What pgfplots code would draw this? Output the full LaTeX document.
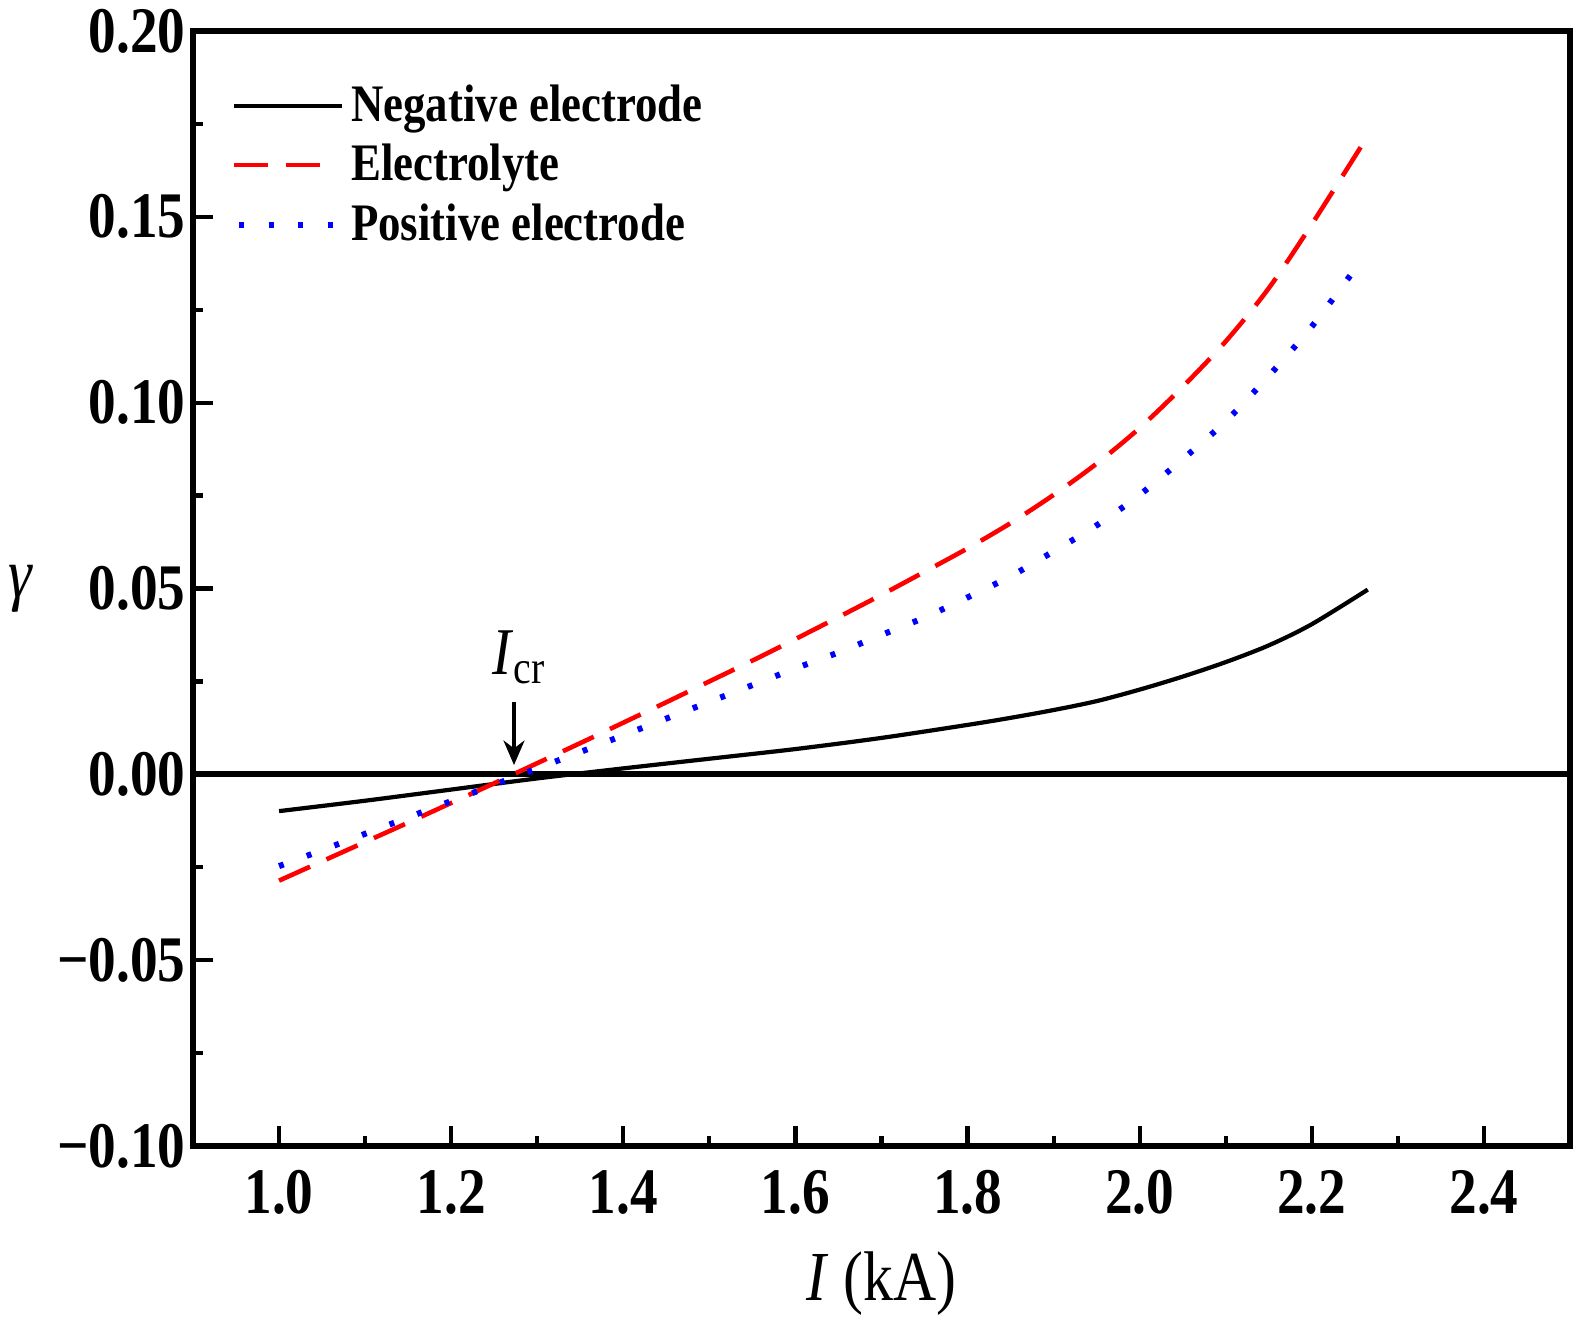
\documentclass[border=0pt]{standalone}
\usepackage{fontspec}
\setmainfont{Liberation Serif}[FakeStretch=0.85]
\usepackage{pgfplots}
\pgfplotsset{compat=1.18}
\usetikzlibrary{arrows.meta}
\pgfplotsset{
  legline/.style={legend image code/.code={\draw[##1] (0cm,0cm) -- (1.08cm,0cm);}},
  legred/.style={legend image code/.code={\draw[##1] (0cm,0cm) -- (0.88cm,0cm);}},
  legblue/.style={legend image code/.code={\draw[##1] (0.05cm,0cm) -- (1.0cm,0cm);}},
}

\begin{document}
\begin{tikzpicture}
  \begin{axis}[
      name=ax,
      scale only axis,
      width=13.77cm, height=11.15cm,
      xmin=0.9, xmax=2.5, ymin=-0.10, ymax=0.20,
      xtick={1.0,1.2,1.4,1.6,1.8,2.0,2.2,2.4},
      xticklabels={1.0,1.2,1.4,1.6,1.8,2.0,2.2,2.4},
      ytick={-0.10,-0.05,0,0.05,0.10,0.15,0.20},
      yticklabels={−0.10,−0.05,0.00,0.05,0.10,0.15,0.20},
      minor x tick num=1, minor y tick num=1,
      tick pos=left, tick align=inside,
      major tick length=0.2cm, minor tick length=0.1cm,
      every tick/.style={black, line width=1.2pt},
      axis line style={line width=1.5pt},
      ticklabel style={font=\fontsize{18.5}{20}\selectfont\bfseries},
      xticklabel style={yshift=-0.12cm},
      yticklabel style={xshift=0.05cm},
      xlabel={\textit{I} (kA)},
      xlabel style={font=\fontsize{20}{22}\selectfont, at={(axis description cs:0.5,0)}, anchor=center, yshift=-1.38cm},
      ylabel={\textit{γ}},
      ylabel style={rotate=-90, font=\fontsize{20}{22}\selectfont, at={(axis description cs:0,0.5)}, anchor=center, xshift=-1.72cm},
      legend style={at={(0.02,0.965)}, anchor=north west, draw=none, fill=none,
        font=\fontsize{15}{17}\selectfont\bfseries, row sep=1pt},
      legend cell align=left,
    ]
    % zero line
    \addplot[black, line width=1.8pt, forget plot] coordinates {(0.9,0) (2.5,0)};

    \addplot[black, line width=1.2pt, smooth, legline] coordinates {
      (1.00,-0.0099) (1.10,-0.0071) (1.20,-0.0041) (1.30,-0.0011)
      (1.40,0.0016) (1.50,0.0042) (1.60,0.0068) (1.70,0.0098)
      (1.80,0.0133) (1.85,0.0152) (1.90,0.0173) (1.95,0.0197)
      (2.00,0.0228) (2.05,0.0263) (2.10,0.0302) (2.15,0.0347)
      (2.20,0.0404) (2.265,0.0497)
    };
    \addplot[red, line width=1.3pt, smooth, dash pattern=on 0.34cm off 0.18cm, legred] coordinates {
      (1.00,-0.0286) (1.05,-0.0234) (1.10,-0.0182) (1.15,-0.0130)
      (1.20,-0.0077) (1.25,-0.0024) (1.30,0.0030) (1.35,0.0084)
      (1.40,0.0139) (1.45,0.0194) (1.50,0.0250) (1.55,0.0306)
      (1.60,0.0364) (1.65,0.0423) (1.70,0.0483) (1.75,0.0545)
      (1.80,0.0608) (1.85,0.0676) (1.90,0.0752) (1.95,0.0836)
      (2.00,0.0932) (2.05,0.1043) (2.10,0.1165) (2.15,0.1308)
      (2.20,0.1480) (2.264,0.1714)
    };
    \addplot[blue, line width=1.7pt, smooth, dash pattern=on 1.4pt off 7pt, legblue] coordinates {
      (1.00,-0.0247) (1.05,-0.0204) (1.10,-0.0160) (1.15,-0.0116)
      (1.20,-0.0072) (1.25,-0.0028) (1.30,0.0016) (1.35,0.0060)
      (1.40,0.0105) (1.45,0.0150) (1.50,0.0195) (1.55,0.0240)
      (1.60,0.0285) (1.65,0.0328) (1.70,0.0375) (1.75,0.0422)
      (1.80,0.0476) (1.85,0.0533) (1.90,0.0600) (1.95,0.0670)
      (2.00,0.0752) (2.05,0.0848) (2.10,0.0950) (2.15,0.1072)
      (2.20,0.1205) (2.252,0.1365)
    };
    \legend{Negative electrode,Electrolyte,Positive electrode}

    \draw[-{Stealth[length=7pt,width=6pt]}, line width=0.9pt]
      (axis cs:1.273,0.0195) -- (axis cs:1.273,0.0025);
    \node[font=\fontsize{19}{21}\selectfont] at (axis cs:1.279,0.0315)
      {\textit{I}\textsubscript{cr}};
  \end{axis}
  \pgfresetboundingbox
  \path[use as bounding box] ([shift={(-1.93cm,-1.76cm)}]ax.south west)
    rectangle ([shift={(0.17cm,0.31cm)}]ax.north east);
\end{tikzpicture}
\end{document}
